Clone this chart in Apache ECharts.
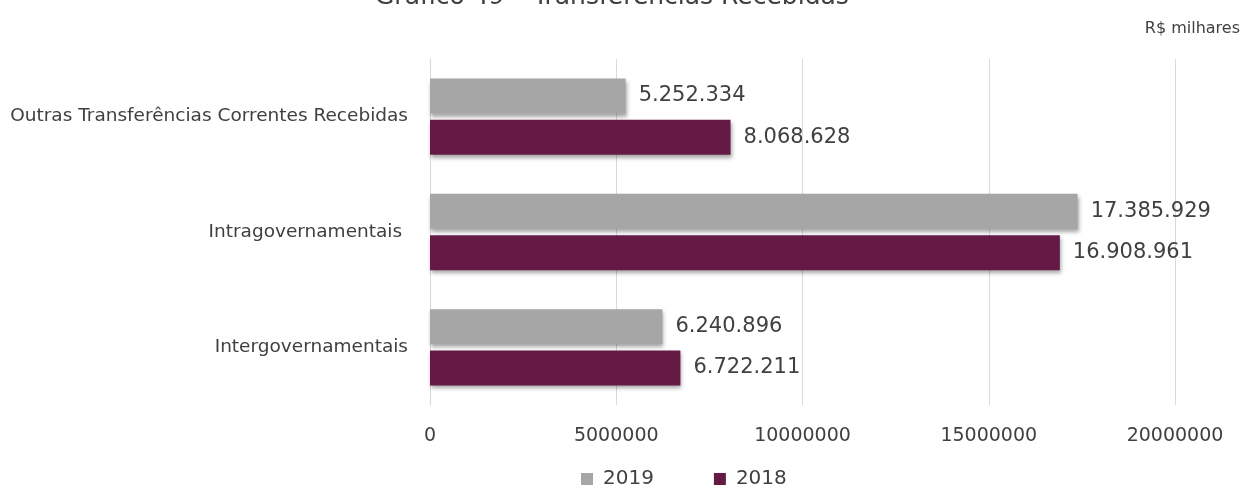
<!DOCTYPE html>
<html>
<head>
<meta charset="utf-8">
<script src="https://cdn.jsdelivr.net/npm/echarts@6/dist/echarts.min.js"></script>
<style>html,body{margin:0;padding:0;background:#fff}#c{width:1258px;height:489px}</style>
</head>
<body>
<div id="c"></div>
<script>
const categories = ['Intergovernamentais', 'Intragovernamentais ', 'Outras Transferências Correntes Recebidas'];
const values2019 = [6240896, 17385929, 5252334];
const values2018 = [6722211, 16908961, 8068628];
const xTicks = [0, 5000000, 10000000, 15000000, 20000000];

const fmt = v => String(v).replace(/\B(?=(\d{3})+(?!\d))/g, '.');
const shadow = {shadowColor: 'rgba(0,0,0,0.35)', shadowBlur: 4, shadowOffsetX: 1, shadowOffsetY: 3};
const F = 'DejaVu Sans';
const chart = echarts.init(document.getElementById('c'), null, {renderer: 'canvas'});
chart.setOption({
  animation: false,
  title: [{
    text: 'Gráfico 49 – Transferências Recebidas',
    left: 370, top: -20,
    textStyle: {fontFamily: F, fontSize: 25, fontWeight: 'normal', color: '#404040'}
  }, {
    text: 'R$ milhares',
    right: 13, top: 16,
    textStyle: {fontFamily: F, fontSize: 16, fontWeight: 'normal', color: '#404040'}
  }],
  legend: {
    data: ['2019', '2018'],
    bottom: -5, left: 576,
    icon: 'rect', itemWidth: 12, itemHeight: 12, itemGap: 60,
    textStyle: {fontFamily: F, fontSize: 20, color: '#404040', padding: [0, 0, 0, 5]}
  },
  grid: {left: 430, right: 83, top: 59, bottom: 84, containLabel: false},
  xAxis: {
    type: 'value', min: xTicks[0], max: xTicks[xTicks.length - 1], interval: 5000000,
    axisLine: {show: false}, axisTick: {show: false},
    splitLine: {lineStyle: {color: '#d9d9d9', width: 1}},
    axisLabel: {margin: 22, fontFamily: F, fontSize: 19, color: '#404040', formatter: v => String(v)}
  },
  yAxis: {
    type: 'category', data: categories,
    axisLine: {show: true, lineStyle: {color: '#d9d9d9'}}, axisTick: {show: false},
    axisLabel: {margin: 22, fontFamily: F, fontSize: 18.5, color: '#404040'}
  },
  series: [{
    name: '2019', type: 'bar', data: values2019, barWidth: 35, barGap: '18%',
    itemStyle: Object.assign({color: '#a6a6a6'}, shadow),
    label: {show: true, position: 'right', distance: 13, formatter: p => fmt(p.value),
      fontFamily: F, fontSize: 21, color: '#404040'}
  }, {
    name: '2018', type: 'bar', data: values2018, barWidth: 35, barGap: '18%',
    itemStyle: Object.assign({color: '#641a45'}, shadow),
    label: {show: true, position: 'right', distance: 13, formatter: p => fmt(p.value),
      fontFamily: F, fontSize: 21, color: '#404040'}
  }]
});
</script>
</body>
</html>
